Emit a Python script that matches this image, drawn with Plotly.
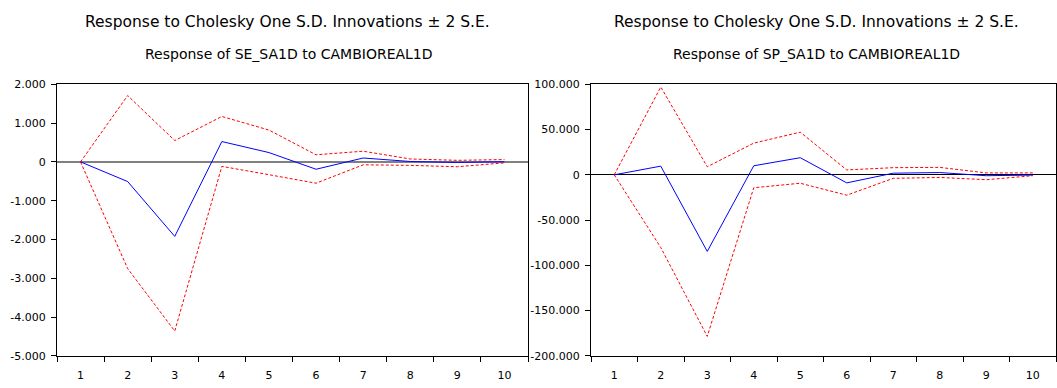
import plotly.graph_objects as go

# Impulse-response horizons
periods = ["1", "2", "3", "4", "5", "6", "7", "8", "9", "10"]

# Response of SE_SA1D to CAMBIOREAL1D
se_resp = [0, -507, -1920, 524, 240, -190, 100, 10, -15, 5]
se_upper = [0, 1710, 550, 1170, 820, 183, 275, 75, 40, 60]
se_lower = [0, -2750, -4360, -116, -330, -550, -75, -90, -125, -25]

# Response of SP_SA1D to CAMBIOREAL1D
sp_resp = [0, 9600, -84600, 10000, 18900, -8900, 1800, 2500, -1000, -300]
sp_upper = [0, 97000, 8900, 35000, 47100, 5400, 7900, 8200, 2100, 2100]
sp_lower = [0, -80300, -178500, -14300, -9300, -22500, -3900, -2900, -5400, -1000]

# Axis tick labels
se_ticks = [2000, 1000, 0, -1000, -2000, -3000, -4000, -5000]
se_ticklabels = ["2.000", "1.000", "0", "-1.000", "-2.000", "-3.000", "-4.000", "-5.000"]
sp_ticks = [100000, 50000, 0, -50000, -100000, -150000, -200000]
sp_ticklabels = ["100.000", "50.000", "0", "-50.000", "-100.000", "-150.000", "-200.000"]

main_title = "Response to Cholesky One S.D. Innovations \u00b1 2 S.E."
se_title = "Response of SE_SA1D to CAMBIOREAL1D"
sp_title = "Response of SP_SA1D to CAMBIOREAL1D"

FONT = "'DejaVu Sans', sans-serif"
W, H = 1057, 388

fig = go.Figure()

panels = [
    ("x", "y", se_resp, se_upper, se_lower),
    ("x2", "y2", sp_resp, sp_upper, sp_lower),
]
for xa, ya, resp, up, lo in panels:
    for band in (up, lo):
        fig.add_trace(go.Scatter(
            x=periods, y=band, xaxis=xa, yaxis=ya, mode="lines",
            line=dict(color="#ff0000", width=1, dash="3px,2px"),
            showlegend=False, hoverinfo="skip"))
    fig.add_trace(go.Scatter(
        x=periods, y=resp, xaxis=xa, yaxis=ya, mode="lines",
        line=dict(color="#0000ff", width=1),
        showlegend=False))

y_top = 1 - 81 / H
y_bot = 1 - 362 / H

xcommon = dict(
    type="category", tickson="boundaries", ticks="outside", ticklen=5,
    tickcolor="#000", tickwidth=1, showline=True, linecolor="#000",
    linewidth=1, mirror=True, showgrid=False, zeroline=False,
    range=[-0.5, len(periods) - 0.5], autorange=False,
    ticklabelstandoff=9,
    tickfont=dict(family=FONT, size=11, color="#000"),
    fixedrange=True,
)
ycommon = dict(
    ticks="outside", ticklen=5, tickcolor="#000", tickwidth=1,
    showline=True, linecolor="#000", linewidth=1, mirror=True,
    showgrid=False, zeroline=True, ticklabelstandoff=3,
    tickfont=dict(family=FONT, size=11, color="#000"),
    domain=[y_bot, y_top], fixedrange=True,
)

fig.update_layout(
    width=W, height=H,
    margin=dict(l=0, r=0, t=0, b=0),
    paper_bgcolor="white", plot_bgcolor="white",
    font=dict(family=FONT, color="#000"),
    xaxis=dict(xcommon, domain=[57 / W, 528 / W], anchor="y"),
    xaxis2=dict(xcommon, domain=[591 / W, 1056 / W], anchor="y2"),
    yaxis=dict(ycommon, range=[-5000, 2000], tickvals=se_ticks,
               ticktext=se_ticklabels, anchor="x",
               zerolinecolor="#808080", zerolinewidth=1.5),
    yaxis2=dict(ycommon, range=[-200000, 100000], tickvals=sp_ticks,
                ticktext=sp_ticklabels, anchor="x2",
                zerolinecolor="#000", zerolinewidth=1),
    annotations=[
        dict(text=main_title, x=287 / W, y=1 - 17 / H, xref="paper", yref="paper",
             showarrow=False, font=dict(size=15.5, family=FONT), xanchor="center", yanchor="middle"),
        dict(text=se_title, x=289 / W, y=1 - 50 / H, xref="paper", yref="paper",
             showarrow=False, font=dict(size=14, family=FONT), xanchor="center", yanchor="middle"),
        dict(text=main_title, x=816 / W, y=1 - 17 / H, xref="paper", yref="paper",
             showarrow=False, font=dict(size=15.5, family=FONT), xanchor="center", yanchor="middle"),
        dict(text=sp_title, x=816 / W, y=1 - 50 / H, xref="paper", yref="paper",
             showarrow=False, font=dict(size=14, family=FONT), xanchor="center", yanchor="middle"),
    ],
)

fig.write_html("out.html")
